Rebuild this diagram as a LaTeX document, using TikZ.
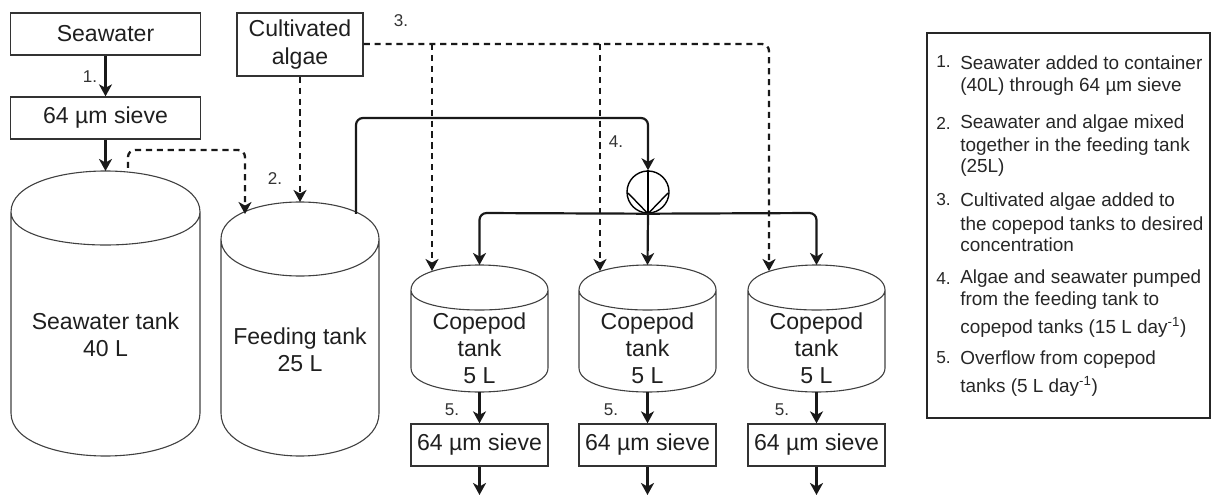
\documentclass[tikz,border=0pt]{standalone}
\usepackage{fontspec}
\setmainfont{Liberation Sans}
\usetikzlibrary{arrows.meta}
\def\px{0.75pt}
% name, xl, xr, ytop, yside, yinner, ylow, ybot, ytext, text
\newcommand{\tank}[9]{\def\tankname{#1}\def\tl{#2}\def\tr{#3}\def\ya{#4}\def\yb{#5}\def\yc{#6}\def\yd{#7}\def\ye{#8}\def\yt{#9}\tankrest}
\newcommand{\tankrest}[1]{%
  \pgfmathsetmacro{\xcc}{(\tl+\tr)/2}
  \pgfmathsetmacro{\ca}{\yb-(\yb-\ya)/0.75}
  \pgfmathsetmacro{\cb}{\yb+(\yc-\yb)/0.75}
  \pgfmathsetmacro{\cc}{\yd+(\ye-\yd)/0.75}
  \draw[tankline] (\tl,\yb) .. controls (\tl,\ca) and (\tr,\ca) .. (\tr,\yb)
     .. controls (\tr,\cb) and (\tl,\cb) .. (\tl,\yb) -- (\tl,\yd)
     .. controls (\tl,\cc) and (\tr,\cc) .. (\tr,\yd) -- (\tr,\yb);
  \coordinate (\tankname) at (\xcc,\ya);
  \node[tanktext] (\tankname text) at (\xcc,\yt) {#1};
}
\tikzset{
  x=0.75pt,y=-0.75pt,
  boxnode/.style={draw=black!80,line width=1.3*\px,inner sep=0pt,font=\fontsize{17.3pt}{21pt}\selectfont,align=center,text=black!88},
  tankline/.style={draw=black!75,line width=1.1*\px},
  tanktext/.style={inner sep=0pt,font=\fontsize{17.3pt}{20.4pt}\selectfont,align=center,text=black!88},
  flow/.style={line width=2.2*\px,black!90,rounded corners=7*\px,-{Stealth[length=12*\px,width=13*\px,inset=3.5*\px]}},
  dashflow/.style={flow,line width=2.3*\px,dash pattern=on 4.6pt off 3.6pt},
  steplabel/.style={inner sep=0pt,font=\fontsize{12.8pt}{15pt}\selectfont,text=black!80},
  legnum/.style={anchor=base west,inner sep=0pt,font=\fontsize{13pt}{15pt}\selectfont,text=black!85},
  legtext/.style={anchor=base west,inner sep=0pt,font=\fontsize{14.2pt}{16pt}\selectfont,text=black!85},
}
\begin{document}
\begin{tikzpicture}
\useasboundingbox (0,0) rectangle (1212,495);
% boxes
\node[boxnode,minimum width=189.5*\px,minimum height=42*\px] (sw) at (105.5,34) {Seawater};
\node[boxnode,minimum width=189.5*\px,minimum height=42*\px] (s0) at (105.5,118) {64 µm sieve};
\node[boxnode,minimum width=126*\px,minimum height=63*\px] (alg) at (300,44.5) {Cultivated\\algae};
% tanks
\tank{t1}{11}{200}{171}{212}{245}{413}{456}{334.5}{Seawater tank\\40 L}
\tank{t2}{221}{379}{202}{239}{276}{413}{456}{350}{Feeding tank\\25 L}
\tank{c1}{411}{548}{265}{290}{310}{368}{392}{348}{Copepod\\tank\\5 L}
\tank{c2}{579}{716}{265}{290}{310}{368}{392}{348}{Copepod\\tank\\5 L}
\tank{c3}{748}{885}{265}{290}{310}{368}{392}{348}{Copepod\\tank\\5 L}
% lower sieves
\node[boxnode,minimum width=137*\px,minimum height=42*\px] (s1) at (479.5,445) {64 µm sieve};
\node[boxnode,minimum width=137*\px,minimum height=42*\px] (s2) at (647.5,445) {64 µm sieve};
\node[boxnode,minimum width=137*\px,minimum height=42*\px] (s3) at (816.5,445) {64 µm sieve};
\coordinate (b1) at (479.5,495);
\coordinate (b2) at (647.5,495);
\coordinate (b3) at (816.5,495);
\coordinate (c1b) at (479.5,392);
\coordinate (c2b) at (647.5,392);
\coordinate (c3b) at (816.5,392);
% pump
\node[circle,draw=black,line width=1.4*\px,minimum size=42*\px,inner sep=0pt] (pump) at (648,192) {};
\coordinate (vl) at (628,193);
\coordinate (vr) at (668,193);
\draw[line width=1.4*\px,black] (vl) -- (pump.south) -- (vr);
\draw[line width=1.4*\px,black] (pump.north) -- (pump.south);
% solid flows
\draw[flow] (sw) -- (s0);
\draw[flow] (s0) -- (t1);
\coordinate (t2out) at (356,214);
\coordinate (t2top) at (356,118);
\coordinate (ptop) at (648,118);
\draw[flow] (t2out) -- (t2top) -- (ptop) -- (pump.north);
\coordinate (jl) at (479.5,213);
\coordinate (jr) at (816.5,213);
\coordinate (c1in) at (479.5,265);
\coordinate (c2in) at (647.5,265);
\coordinate (c3in) at (816.5,265);
\draw[flow] (pump.south) -- (jl) -- (c1in);
\draw[flow] (pump.south) -- (c2in);
\draw[flow] (pump.south) -- (jr) -- (c3in);
\draw[flow] (c1b) -- (s1);
\draw[flow] (c2b) -- (s2);
\draw[flow] (c3b) -- (s3);
\draw[flow] (s1) -- (b1);
\draw[flow] (s2) -- (b2);
\draw[flow] (s3) -- (b3);
% dashed flows
\coordinate (d0) at (128,168);
\coordinate (d1) at (128,150);
\coordinate (d2) at (245,150);
\coordinate (d3) at (245,214);
\draw[dashflow] (d0) -- (d1) -- (d2) -- (d3);
\draw[dashflow] (alg.south) -- (t2);
\coordinate (a0) at (432,44);
\coordinate (a1) at (600,44);
\coordinate (a2) at (769,44);
\coordinate (e1) at (432,271);
\coordinate (e2) at (600,271);
\coordinate (e3) at (769,271);
\coordinate (algr) at (alg.east |- a0);
\draw[dashflow] (algr) -- (a2) -- (e3);
\draw[dashflow] (a0) -- (e1);
\draw[dashflow] (a1) -- (e2);
% step labels
\node[steplabel] (l1) at (90,77) {1.};
\node[steplabel] (l2) at (275,179) {2.};
\node[steplabel] (l3) at (401,21) {3.};
\node[steplabel] (l4) at (616,142) {4.};
\node[steplabel] (l5a) at (452,410) {5.};
\node[steplabel] (l5b) at (611,410) {5.};
\node[steplabel] (l5c) at (782,410) {5.};
% legend
\node[draw=black!85,line width=2.2*\px,minimum width=283*\px,minimum height=385*\px,inner sep=0pt] (leg) at (1068.5,225.5) {};
\node[legnum] (n1) at (936,68) {1.};
\node[legtext] (t11) at (960,70) {Seawater added to container};
\node[legtext] (t12) at (960,92) {(40L) through 64 µm sieve};
\node[legnum] (n2) at (936,130) {2.};
\node[legtext] (t21) at (960,129) {Seawater and algae mixed};
\node[legtext] (t22) at (960,152) {together in the feeding tank};
\node[legtext] (t23) at (960,173) {(25L)};
\node[legnum] (n3) at (936,205) {3.};
\node[legtext] (t31) at (960,207) {Cultivated algae added to};
\node[legtext] (t32) at (960,230) {the copepod tanks to desired};
\node[legtext] (t33) at (960,252) {concentration};
\node[legnum] (n4) at (936,284) {4.};
\node[legtext] (t41) at (960,283) {Algae and seawater pumped};
\node[legtext] (t42) at (960,305) {from the feeding tank to};
\node[legtext] (t43) at (960,333) {copepod tanks (15 L day\textsuperscript{-1})};
\node[legnum] (n5) at (936,363) {5.};
\node[legtext] (t51) at (960,364) {Overflow from copepod};
\node[legtext] (t52) at (960,392) {tanks (5 L day\textsuperscript{-1})};
\end{tikzpicture}
\end{document}
